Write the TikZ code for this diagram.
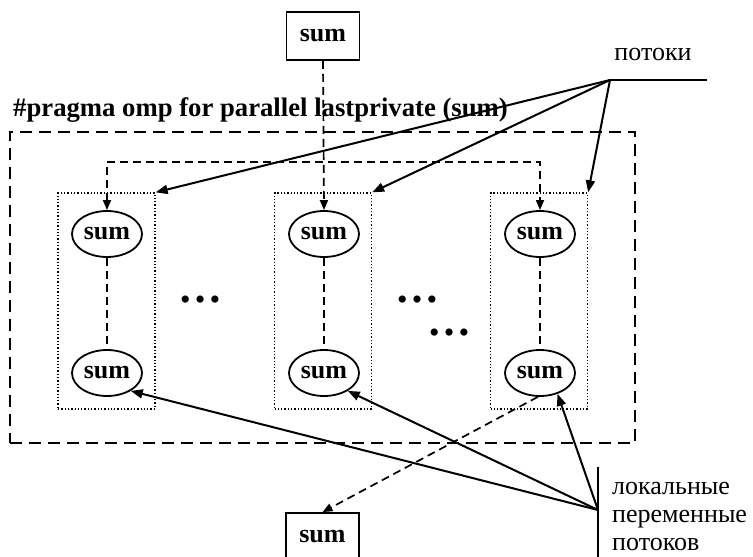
\documentclass[tikz,border=0pt]{standalone}
\usepackage{fontspec}
\setmainfont{Liberation Serif}
\usetikzlibrary{shapes.geometric,arrows.meta}
\begin{document}
\begin{tikzpicture}[x=1pt,y=-1pt,
  big/.style={font=\fontsize{26}{28}\selectfont},
  sumell/.style={ellipse,draw,line width=1.8pt,minimum width=70,minimum height=46,inner sep=0pt,font=\bfseries\fontsize{26}{28}\selectfont},
  sumbox/.style={rectangle,draw,line width=1.8pt,minimum width=73,minimum height=48,inner sep=0pt,font=\bfseries\fontsize{26}{28}\selectfont},
  column/.style={rectangle,draw,dotted,line width=1.3pt,minimum width=97,minimum height=216,inner sep=0pt},
  frame/.style={rectangle,draw,line width=2pt,dash pattern=on 12pt off 7pt,minimum width=625,minimum height=311,inner sep=0pt},
  tip/.style={-{Triangle[length=10pt,width=8pt]}},
  dl/.style={line width=1.7pt,dash pattern=on 8pt off 5pt},
  solidarrow/.style={line width=2pt,-{Triangle[length=12pt,width=9pt]}},
  dots/.style={font=\bfseries\fontsize{44}{46}\selectfont,inner sep=0pt}
]
\useasboundingbox (0,0) rectangle (753,557);

% outer parallel region
\node[frame] (region) at (322.5,287.5) {};
\node[anchor=base west,inner sep=0pt,font=\bfseries\fontsize{26.7}{28}\selectfont] (pragma) at (13,116) {\#pragma omp for parallel lastprivate (sum)};

% thread columns
\node[column] (c1) at (106.5,301) {};
\node[column] (c2) at (323,301) {};
\node[column] (c3) at (539,301) {};

\node[sumell] (e1t) at (107,234) {sum};
\node[sumell] (e1b) at (107,373) {sum};
\node[sumell] (e2t) at (324,234) {sum};
\node[sumell] (e2b) at (324,373) {sum};
\node[sumell] (e3t) at (540,234) {sum};
\node[sumell] (e3b) at (540,373) {sum};

\draw[dl] (e1t) -- (e1b);
\draw[dl] (e2t) -- (e2b);
\draw[dl] (e3t) -- (e3b);

\node[dots,anchor=base] (d1) at (200,302) {…};
\node[dots,anchor=base] (d2) at (417,302) {…};
\node[dots,anchor=base] (d3) at (449,335) {…};

% shared variable before and after the loop
\node[sumbox] (topsum) at (323,36) {sum};
\node[sumbox] (botsum) at (322.5,537) {sum};

\coordinate (hm) at (324,162);
\draw[dl,{Triangle[length=10pt,width=8pt]}-{Triangle[length=10pt,width=8pt]}] (e1t.north) |- (hm) -| (e3t.north);
\draw[dl,tip] (topsum.south) -- (e2t.north);
\draw[dl,tip] (e3b.-95) -- (botsum.north);

% threads label
\coordinate (th) at (610,80);
\coordinate (thend) at (707,80);
\draw[line width=2pt] (th) -- (thend);
\node[big,inner sep=0pt] (threads) at (653,55) {потоки};
\draw[solidarrow] (th) -- (c1.north east);
\draw[solidarrow] (th) -- (c2.north east);
\draw[solidarrow] (th) -- (c3.north east);

% local variables label
\coordinate (lv) at (598,510);
\coordinate (lvtop) at (598,467);
\coordinate (lvbot) at (598,562);
\draw[line width=2pt] (lvtop) -- (lvbot);
\node[anchor=base west,inner sep=0pt,align=left,font=\fontsize{26}{28}\selectfont] (locals) at (612,550) {локальные\\переменные\\потоков};
\draw[solidarrow] (lv) -- (e1b.-37);
\draw[solidarrow] (lv) -- (e2b.-37);
\draw[solidarrow] (lv) -- (e3b.-50);
\end{tikzpicture}
\end{document}
